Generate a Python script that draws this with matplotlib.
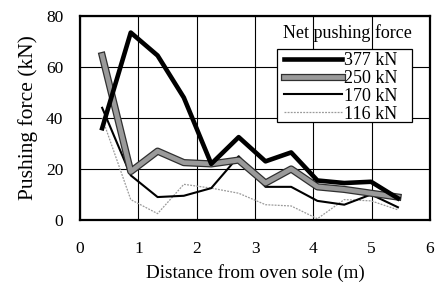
import matplotlib
matplotlib.use("Agg")
import matplotlib.pyplot as plt
import matplotlib.patheffects as pe
from matplotlib.patches import Rectangle

plt.rcParams['font.family'] = ['Liberation Serif', 'DejaVu Serif']

# Data
x_pos = [0.38, 0.87, 1.33, 1.78, 2.25, 2.72, 3.18, 3.62, 4.07, 4.53, 4.99, 5.45]
f377 = [36, 73.5, 64.5, 48, 22, 32.5, 23, 26.5, 15.5, 14.5, 15, 8.5]
f250 = [64.5, 19, 27, 22.5, 22, 23.5, 14.5, 20, 13, 12, 10.5, 9]
f170 = [44, 17.5, 9, 9.5, 12.5, 25, 13, 13, 7.5, 6, 10, 5]
f116 = [40, 8, 2.5, 14, 12.5, 10.5, 6, 5.5, 0.5, 8, 7.5, 4]
labels = ['377 kN', '250 kN', '170 kN', '116 kN']

fig = plt.figure(figsize=(4.36, 2.88), dpi=100)
ax = fig.add_axes([80/436, 1-220/288, 350/436, 204/288])

ax.plot(x_pos, f377, color='black', lw=3.3, label=labels[0], zorder=5)
ax.plot(x_pos, f250, color='#9a9a9a', lw=3.4, label=labels[1], zorder=4,
        path_effects=[pe.Stroke(linewidth=5.2, foreground='#303030'), pe.Normal()])
ax.plot(x_pos, f170, color='black', lw=1.5, label=labels[2], zorder=3)
ax.plot(x_pos, f116, color='#9a9a9a', lw=0.9, linestyle=(0, (1.5, 1.0)), label=labels[3], zorder=2)

ax.set_xlim(0, 6)
ax.set_ylim(0, 80)
ax.set_xticks(range(0, 7))
ax.set_yticks(range(0, 81, 20))
ax.grid(True, color='black', lw=0.8)
ax.tick_params(length=0, labelsize=12.5)
ax.tick_params(axis='y', pad=12)
ax.tick_params(axis='x', pad=15)
for s in ax.spines.values():
    s.set_linewidth(1.6)

ax.set_xlabel('Distance from oven sole (m)', fontsize=13.8, labelpad=5)
ax.set_ylabel('Pushing force (kN)', fontsize=15.5, labelpad=6)

fig.text(347/436, 1-33/288, 'Net pushing force', fontsize=13, ha='center', va='center')

# legend box
box = Rectangle((277/436, 1-122/288), 135/436, 73/288, transform=fig.transFigure,
                facecolor='white', edgecolor='black', lw=0.9, zorder=9, clip_on=False)
ax.add_patch(box)
leg = ax.legend(loc='upper left', bbox_to_anchor=((284-80)/350, (220-52)/204),
                fontsize=13, frameon=False,
                handlelength=3.2, handletextpad=0.1, labelspacing=0.05,
                borderpad=0.0, borderaxespad=0)
leg.set_zorder(10)

fig.savefig('out.png', dpi=100)
